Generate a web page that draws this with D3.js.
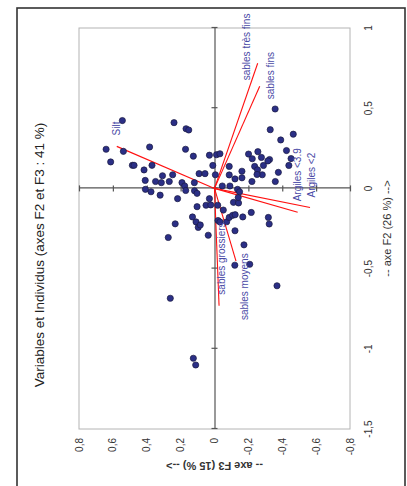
<!DOCTYPE html>
<html>
<head>
<meta charset="utf-8">
<script src="https://cdn.jsdelivr.net/npm/d3@7"></script>
<style>
  body { margin: 0; background: #fff; }
  text { font-family: Arial, "Liberation Sans", sans-serif; }
</style>
</head>
<body>
<svg id="chart" width="407" height="486"></svg>
<script>
// tick values of the two axes
const f2Ticks = [-1.5, -1, -0.5, 0, 0.5, 1];
const f3Ticks = [-0.8, -0.6, -0.4, -0.2, 0, 0.2, 0.4, 0.6, 0.8];

// individuals (observations), coordinates on F2 and F3
const obsF2 = [0.423, 0.410, 0.372, 0.364, 0.244, 0.231, 0.258, 0.244, 0.165, 0.144,
  0.144, 0.144, 0.115, 0.201, 0.207, 0.210, 0.216, 0.079, 0.085, 0.050,
  0.043, 0.036, 0.043, 0.036, 0.015, 0.036, 0.092, 0.092, 0.143, 0.085,
  0.137, 0.084, 0.059, 0.107, 0.066, 0.043, 0.015, 0.015, -0.006, -0.021,
  -0.006, -0.021, -0.042, -0.064, -0.013, -0.015, -0.031, -0.064, -0.105, -0.103,
  -0.105, -0.114, -0.135, -0.087, -0.091, -0.057, -0.178, -0.209, -0.243, -0.228,
  -0.221, -0.306, -0.292, -0.200, -0.209, -0.208, -0.181, -0.168, -0.164, -0.178,
  -0.150, -0.264, -0.352, -0.479, -0.473, 0.495, 0.366, 0.338, 0.302, 0.236,
  0.186, 0.143, 0.100, 0.043, 0.214, 0.185, 0.229, 0.193, 0.180, 0.171,
  0.137, 0.116, 0.143, 0.085, 0.087, -0.181, -0.222, -0.607, -0.685, -1.059,
  -1.101];
const obsF3 = [0.544, 0.239, 0.168, 0.152, 0.640, 0.538, 0.383, 0.171, 0.613, 0.485,
  0.475, 0.369, 0.416, 0.125, 0.030, -0.012, -0.032, 0.307, 0.247, 0.409,
  0.348, 0.314, 0.267, 0.192, 0.176, 0.119, 0.091, 0.056, 0.010, -0.005,
  -0.087, -0.087, -0.121, -0.162, -0.162, -0.221, -0.046, -0.091, -0.136, -0.148,
  0.408, 0.375, 0.321, 0.218, 0.170, 0.118, 0.103, 0.030, 0.050, 0.022,
  -0.019, 0.103, -0.052, -0.112, -0.142, -0.140, 0.130, 0.109, 0.096, 0.084,
  0.232, 0.273, 0.037, -0.021, -0.032, -0.072, -0.087, -0.107, -0.122, -0.167,
  -0.217, -0.121, -0.174, -0.120, -0.208, -0.358, -0.329, -0.465, -0.391, -0.425,
  -0.452, -0.439, -0.377, -0.359, -0.201, -0.223, -0.256, -0.277, -0.325, -0.315,
  -0.237, -0.254, -0.289, -0.282, -0.251, -0.318, -0.323, -0.369, 0.261, 0.125,
  0.111];

// active variables, loadings on F2 and F3
const varNames = ["Silt", "sables très fins", "sables fins", "Argiles <3.9",
  "Argiles <2", "sables grossiers", "sables moyens"];
const varF2 = [0.262, 0.780, 0.637, -0.149, -0.119, -0.731, -0.453];
const varF3 = [0.577, -0.255, -0.267, -0.491, -0.564, -0.027, -0.127];

const fmt = d => String(d).replace(".", ",");

// chart is drawn in its own frame (486 x 407) and turned a quarter turn
const W = 486, H = 407;
const svg = d3.select("#chart");
const g = svg.append("g").attr("transform", "translate(0," + W + ") rotate(-90)");

const x = d3.scaleLinear().domain([-1.5, 1]).range([57, 458]);
const y = d3.scaleLinear().domain([-0.8, 0.8]).range([350, 79]);

// outer frame
g.append("rect")
  .attr("x", -10).attr("y", 17)
  .attr("width", 488).attr("height", 388)
  .attr("fill", "none").attr("stroke", "#333").attr("stroke-width", 1.6);

// plot area
g.append("rect")
  .attr("x", x(-1.5)).attr("y", y(0.8))
  .attr("width", x(1) - x(-1.5)).attr("height", y(-0.8) - y(0.8))
  .attr("fill", "#fff").attr("stroke", "#b4b4b4").attr("stroke-width", 1);

// axes through the origin, ticks crossing the line
const xAxis = g.append("g").attr("transform", "translate(0," + y(0) + ")")
  .call(d3.axisBottom(x).tickValues(f2Ticks).tickSize(6).tickSizeOuter(0).tickFormat(""));
const yAxis = g.append("g").attr("transform", "translate(" + x(0) + ",0)")
  .call(d3.axisLeft(y).tickValues(f3Ticks).tickSize(6).tickSizeOuter(0).tickFormat(""));
xAxis.selectAll(".tick line").attr("y1", -3).attr("y2", 3);
yAxis.selectAll(".tick line").attr("x1", -3).attr("x2", 3);
[xAxis, yAxis].forEach(a => {
  a.select(".domain").attr("stroke", "#555").attr("stroke-width", 1.2);
  a.selectAll(".tick line").attr("stroke", "#555").attr("stroke-width", 1.2);
});

// tick labels at the plot edges
g.append("g").selectAll("text").data(f2Ticks).join("text")
  .attr("x", d => x(d)).attr("y", 372)
  .attr("text-anchor", "middle").attr("font-size", 10).attr("fill", "#333")
  .text(fmt);
g.append("g").selectAll("text").data(f3Ticks).join("text")
  .attr("x", 48).attr("y", d => y(d) + 3.5)
  .attr("text-anchor", "end").attr("font-size", 10).attr("fill", "#333")
  .text(fmt);

// titles
g.append("text")
  .attr("x", 231).attr("y", 44)
  .attr("text-anchor", "middle").attr("font-size", 13.5).attr("fill", "#222")
  .text("Variables et Individus (axes F2 et F3 : 41 %)");
g.append("text")
  .attr("x", (x(-1.5) + x(1)) / 2).attr("y", 391)
  .attr("text-anchor", "middle").attr("font-size", 11).attr("fill", "#333")
  .text("-- axe F2 (26 %) -->");
g.append("text")
  .attr("transform", "translate(24," + y(0) + ") rotate(-90)")
  .attr("text-anchor", "middle").attr("font-size", 11).attr("font-weight", "bold").attr("fill", "#333")
  .text("-- axe F3 (15 %) -->");

// variable vectors
const vars = varNames.map((n, i) => ({ name: n, f2: varF2[i], f3: varF3[i] }));
g.append("g").selectAll("line").data(vars).join("line")
  .attr("x1", x(0)).attr("y1", y(0))
  .attr("x2", d => x(d.f2)).attr("y2", d => y(d.f3))
  .attr("stroke", "#ff1010").attr("stroke-width", 1.1);

// individuals
const obs = obsF2.map((v, i) => ({ f2: v, f3: obsF3[i] }));
g.append("g").selectAll("circle").data(obs).join("circle")
  .attr("cx", d => x(d.f2)).attr("cy", d => y(d.f3))
  .attr("r", 3.1)
  .attr("fill", "#2b2f86").attr("stroke", "#1a1a40").attr("stroke-width", 0.7);

// label nudges (px) so the names do not collide
const nudge = {
  "Silt": [11, 0], "sables très fins": [-17, -11], "sables fins": [-13, 11],
  "Argiles <3.9": [11, 0], "Argiles <2": [10, 1], "sables grossiers": [11, 2],
  "sables moyens": [-59, 8]
};
g.append("g").selectAll("text").data(vars).join("text")
  .attr("x", d => x(d.f2) + nudge[d.name][0])
  .attr("y", d => y(d.f3) + nudge[d.name][1])
  .attr("dy", "0.35em")
  .attr("font-size", 10).attr("fill", "#4a4aa6")
  .text(d => d.name);
</script>
</body>
</html>
